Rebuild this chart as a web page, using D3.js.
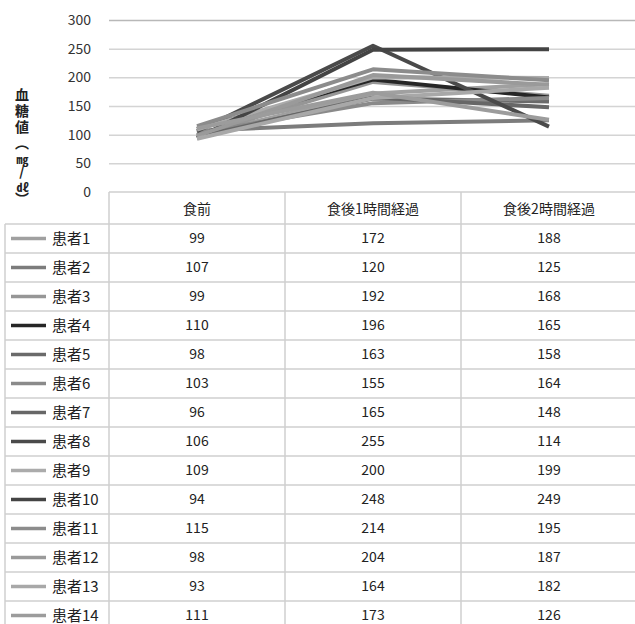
<!DOCTYPE html>
<html>
<head>
<meta charset="utf-8">
<script src="https://cdn.jsdelivr.net/npm/d3@7"></script>
<style>
  body { margin: 0; background: #fff; }
  #chart { position: relative; }
  text { font-family: "Noto Sans CJK JP", "Noto Sans", sans-serif; }
  .ytitle {
    position: absolute;
    left: 14px;
    top: 88px;
    writing-mode: vertical-rl;
    text-orientation: upright;
    font-family: "Noto Sans CJK JP", sans-serif;
    font-size: 14px;
    font-weight: bold;
    line-height: 16px;
    letter-spacing: 2px;
    color: #222;
  }
  .ytitle .tcy { text-combine-upright: all; font-size: 12px; }
</style>
</head>
<body>
<div id="chart"></div>
<script>
// blood sugar line chart with data table

const categories = ['食前', '食後1時間経過', '食後2時間経過']
const patients = ['患者1', '患者2', '患者3', '患者4', '患者5', '患者6', '患者7',
  '患者8', '患者9', '患者10', '患者11', '患者12', '患者13', '患者14']
const values = [
  [99, 172, 188],
  [107, 120, 125],
  [99, 192, 168],
  [110, 196, 165],
  [98, 163, 158],
  [103, 155, 164],
  [96, 165, 148],
  [106, 255, 114],
  [109, 200, 199],
  [94, 248, 249],
  [115, 214, 195],
  [98, 204, 187],
  [93, 164, 182],
  [111, 173, 126]
]
const colors = ['#a0a0a0', '#7c7c7c', '#969696', '#262626', '#6a6a6a', '#8a8a8a', '#676767',
  '#4a4a4a', '#ababab', '#444444', '#8c8c8c', '#9a9a9a', '#a8a8a8', '#9c9c9c']
const yTicks = [0, 50, 100, 150, 200, 250, 300]

const width = 635
const height = 624
const tableLeft = 109
const colW = 176
const headTop = 192
const headH = 32
const rowH = 29
const legendLeft = 5

const chart = d3.select('#chart')
const svg = chart.append('svg')
  .attr('width', width).attr('height', height)

const x = d3.scaleBand().domain(categories)
  .range([tableLeft, tableLeft + colW * categories.length])
const y = d3.scaleLinear().domain([0, 300]).range([headTop, 20])

// gridlines
svg.append('g').selectAll('line')
  .data(yTicks.filter(d => d > 0))
  .join('line')
  .attr('x1', tableLeft).attr('x2', width)
  .attr('y1', d => y(d) + 0.5).attr('y2', d => y(d) + 0.5)
  .attr('stroke', d => d === 300 ? '#b8b8b8' : '#d4d4d4')
  .attr('stroke-width', 1.5)

// y axis labels
svg.append('g').selectAll('text')
  .data(yTicks)
  .join('text')
  .attr('x', 91)
  .attr('y', d => y(d))
  .attr('dy', '0.35em')
  .attr('text-anchor', 'end')
  .attr('font-size', 14)
  .attr('fill', '#333')
  .text(d => d)

// y axis title, vertical writing
const ytitle = chart.append('div').attr('class', 'ytitle')
ytitle.append('span').text('血糖値（')
ytitle.append('span').attr('class', 'tcy').text('mg')
ytitle.append('span').text('/')
ytitle.append('span').attr('class', 'tcy').text('dℓ')
ytitle.append('span').text('）')

// lines
const line = d3.line()
  .x((d, i) => x(categories[i]) + x.bandwidth() / 2)
  .y(d => y(d))

svg.append('g').selectAll('path')
  .data(values)
  .join('path')
  .attr('d', d => line(d))
  .attr('fill', 'none')
  .attr('stroke', (d, i) => colors[i])
  .attr('stroke-width', 4)
  .attr('stroke-linejoin', 'round')

// table grid
const tg = svg.append('g').attr('stroke', '#cfcfcf').attr('stroke-width', 1.5)
const tableBottom = headTop + headH + rowH * patients.length
tg.append('line').attr('x1', tableLeft).attr('x2', width).attr('y1', headTop).attr('y2', headTop)
tg.selectAll('.hrow')
  .data(d3.range(patients.length + 1))
  .join('line')
  .attr('x1', legendLeft).attr('x2', width)
  .attr('y1', i => headTop + headH + i * rowH)
  .attr('y2', i => headTop + headH + i * rowH)
tg.append('line').attr('x1', legendLeft).attr('x2', legendLeft)
  .attr('y1', headTop + headH).attr('y2', tableBottom)
tg.selectAll('.vcol')
  .data(categories)
  .join('line')
  .attr('x1', d => x(d)).attr('x2', d => x(d))
  .attr('y1', headTop).attr('y2', tableBottom)

// header
svg.append('g').selectAll('text')
  .data(categories)
  .join('text')
  .attr('x', d => x(d) + x.bandwidth() / 2)
  .attr('y', headTop + headH / 2 + 1)
  .attr('dy', '0.35em')
  .attr('text-anchor', 'middle')
  .attr('font-size', 14)
  .attr('fill', '#222')
  .text(d => d)

// rows
const rows = svg.append('g').selectAll('g')
  .data(patients)
  .join('g')
  .attr('transform', (d, i) => 'translate(0,' + (headTop + headH + i * rowH + rowH / 2) + ')')

rows.append('line')
  .attr('x1', 11).attr('x2', 46)
  .attr('y1', 0).attr('y2', 0)
  .attr('stroke', (d, i) => colors[i])
  .attr('stroke-width', 3.5)

rows.append('text')
  .attr('x', 52)
  .attr('dy', '0.35em')
  .attr('font-size', 15)
  .attr('fill', '#222')
  .text(d => d)

rows.selectAll('.val')
  .data((d, i) => values[i])
  .join('text')
  .attr('x', (d, j) => x(categories[j]) + x.bandwidth() / 2)
  .attr('dy', '0.35em')
  .attr('text-anchor', 'middle')
  .attr('font-size', 14)
  .attr('fill', '#222')
  .text(d => d)
</script>
</body>
</html>
